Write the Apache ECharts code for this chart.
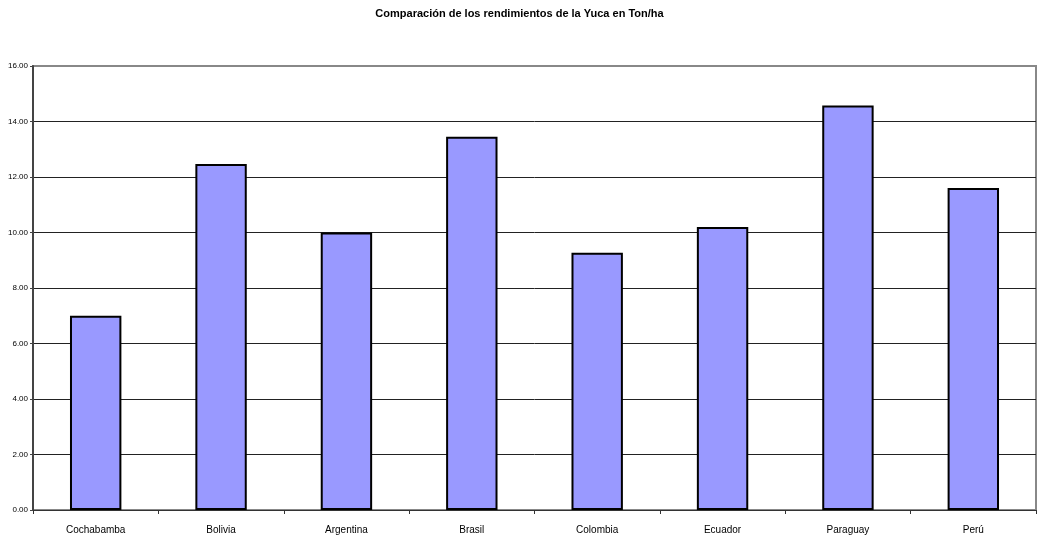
<!DOCTYPE html>
<html>
<head>
<meta charset="utf-8">
<script src="https://cdn.jsdelivr.net/npm/echarts@6/dist/echarts.min.js"></script>
<style>
  html, body { margin: 0; padding: 0; background: #fff; }
  #chart { width: 1039px; height: 537px; }
</style>
</head>
<body>
<div id="chart"></div>
<script>
const titleText = "Comparación de los rendimientos de la Yuca en Ton/ha";
const regiones = ["Cochabamba", "Bolivia", "Argentina", "Brasil", "Colombia", "Ecuador", "Paraguay", "Perú"];
const rendimientos = [7.0, 12.47, 10.0, 13.45, 9.27, 10.2, 14.58, 11.6];

const chart = echarts.init(document.getElementById("chart"));

// last split line (16.00) sits on the gray plot border
const gridColors = ["#222", "#222", "#222", "#222", "#222", "#222", "#222", "#222", "#888"];

const options = {
  animation: false,
  title: {
    text: titleText,
    left: "center",
    top: 3,
    textStyle: {
      fontFamily: "Liberation Sans, Arial, sans-serif",
      fontSize: 11,
      fontWeight: "bold",
      color: "#000"
    }
  },
  grid: {
    left: 33,
    right: 3,
    top: 66,
    bottom: 27,
    show: true,
    borderColor: "#888",
    borderWidth: 2,
    backgroundColor: "#fff"
  },
  xAxis: {
    type: "category",
    data: regiones,
    boundaryGap: true,
    axisLine: { show: true, lineStyle: { color: "#333", width: 1 } },
    axisTick: { show: true, alignWithLabel: false, length: 4, lineStyle: { color: "#333" } },
    axisLabel: {
      fontFamily: "Liberation Sans, Arial, sans-serif",
      fontSize: 10,
      color: "#000",
      margin: 15,
      interval: 0
    },
    splitLine: { show: false }
  },
  yAxis: {
    type: "value",
    min: 0,
    max: 16,
    interval: 2,
    axisLine: { show: true, lineStyle: { color: "#444", width: 2 } },
    axisTick: { show: true, length: 3, lineStyle: { color: "#444" } },
    axisLabel: {
      fontFamily: "Liberation Sans, Arial, sans-serif",
      fontSize: 8,
      color: "#000",
      margin: 5,
      formatter: function (v) { return v.toFixed(2); }
    },
    splitLine: { show: true, lineStyle: { color: gridColors, width: 1 } }
  },
  series: [
    {
      type: "bar",
      data: rendimientos,
      barWidth: "41%",
      itemStyle: {
        color: "#9999FF",
        borderColor: "#000",
        borderWidth: 2
      }
    }
  ]
};

chart.setOption(options);
</script>
</body>
</html>
